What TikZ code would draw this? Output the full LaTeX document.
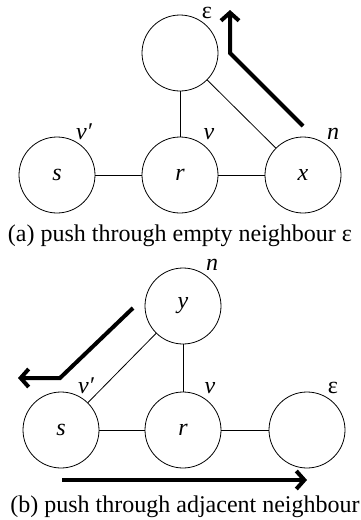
\documentclass[tikz,border=0pt]{standalone}
\usepackage{fontspec}
\setmainfont{Liberation Serif}
\usetikzlibrary{arrows.meta}
\tikzset{
  vert/.style={circle, draw, line width=0.8pt, minimum size=76pt, inner sep=0pt, font=\fontsize{24}{28}\selectfont\itshape},
  lbl/.style={inner sep=0pt, anchor=base, font=\fontsize{24}{28}\selectfont\itshape},
  captext/.style={inner sep=0pt, font=\fontsize{24}{28}\selectfont},
  edge/.style={line width=0.8pt},
  push/.style={line width=4pt, -{Straight Barb[length=8pt,width=18pt,line width=4pt]}}
}
\begin{document}
\begin{tikzpicture}[x=1pt,y=-1pt]
\useasboundingbox (0,0) rectangle (360,520);

% (a) push through an empty neighbour
\node[vert] (e1) at (180,53) {};
\node[vert] (s1) at (57,175) {s};
\node[vert] (r1) at (180,175) {r};
\node[vert] (x1) at (303,175) {x};
\draw[edge] (e1) -- (r1);
\draw[edge] (e1) -- (x1);
\draw[edge] (s1) -- (r1);
\draw[edge] (r1) -- (x1);
\node[lbl] (la1) at (84,139) {v′};
\node[lbl] (lb1) at (209,139) {v};
\node[lbl] (lc1) at (333,139) {n};
\node[lbl] (ld1) at (207,18) {\upshape ε};
\coordinate (p1) at (303,126);
\coordinate (p2) at (230,53);
\coordinate (p3) at (230,10);
\draw[push] (p1) -- (p2) -- (p3);
\node[captext] (capa) at (180,236) {(a) push through empty neighbour ε};

% (b) push through an adjacent neighbour
\node[vert] (y2) at (183,306) {y};
\node[vert] (s2) at (61,430) {s};
\node[vert] (r2) at (183,430) {r};
\node[vert] (e2) at (307,430) {};
\draw[edge] (y2) -- (r2);
\draw[edge] (y2) -- (s2);
\draw[edge] (s2) -- (r2);
\draw[edge] (r2) -- (e2);
\node[lbl] (la2) at (212,270) {n};
\node[lbl] (lb2) at (86,393) {v′};
\node[lbl] (lc2) at (210,393) {v};
\node[lbl] (ld2) at (333,393) {\upshape ε};
\coordinate (q1) at (133,308);
\coordinate (q2) at (60,378);
\coordinate (q3) at (18,378);
\draw[push] (q1) -- (q2) -- (q3);
\coordinate (q4) at (62,480);
\coordinate (q5) at (307,480);
\draw[push] (q4) -- (q5);
\node[captext] (capb) at (185,507) {(b) push through adjacent neighbour};
\end{tikzpicture}
\end{document}
